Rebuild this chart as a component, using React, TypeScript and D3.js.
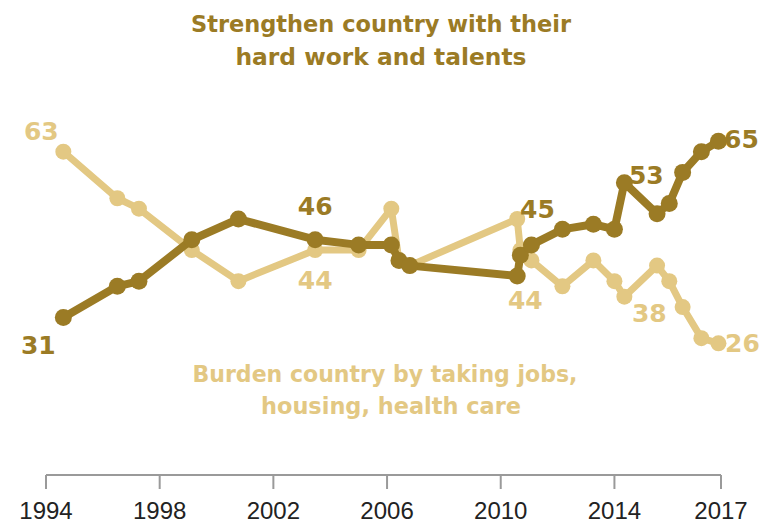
import React from "react";
import * as d3 from "d3";

const dates = [1994.61, 1996.51, 1997.27, 1999.13, 2000.77, 2003.47, 2005.0, 2006.15, 2006.42, 2006.8, 2010.58, 2010.69, 2011.08, 2012.17, 2013.26, 2014.0, 2014.35, 2015.5, 2015.93, 2016.4, 2017.06, 2017.66];
const strengthen = [31, 37, 38, 46, 50, 46, 45, 45, 42, 41, 39, 43, 45, 48, 49, 48, 57, 51, 53, 59, 63, 65];
const burden = [63, 54, 52, 44, 38, 44, 44, 52, 42, 41, 50, 44, 42, 37, 42, 38, 35, 41, 38, 33, 27, 26];

const tickValues = [1994, 1998, 2002, 2006, 2010, 2014, 2017.75];
const tickLabels = ["1994", "1998", "2002", "2006", "2010", "2014", "2017"];

const strengthenLabels = [
  { i: 0, text: "31" },
  { i: 5, text: "46" },
  { i: 12, text: "45" },
  { i: 18, text: "53" },
  { i: 21, text: "65" },
];
const burdenLabels = [
  { i: 0, text: "63" },
  { i: 5, text: "44" },
  { i: 11, text: "44" },
  { i: 18, text: "38" },
  { i: 21, text: "26" },
];

const titleLines = ["Strengthen country with their", "hard work and talents"];
const burdenTitleLines = ["Burden country by taking jobs,", "housing, health care"];

const DARK = "#9b7b25";
const LIGHT = "#e3c883";

export default function App() {
  const W = 764;
  const H = 523;
  const x = d3.scaleLinear().domain([1994, 2017.75]).range([46, 721]);
  const y = d3.scaleLinear().domain([0, 70]).range([478, 478 - 5.18 * 70]);

  const line = d3
    .line<number>()
    .x((_, i) => x(dates[i]))
    .y((d) => y(d));

  const font = "'Liberation Sans', Arial, sans-serif";
  const boldFont = "'DejaVu Sans', 'Liberation Sans', sans-serif";
  const axisY = 475;

  const sOff: Record<number, [number, number]> = {
    0: [-25, 37],
    5: [0, -25],
    12: [6, -27],
    18: [-23, -19],
    21: [23, 7],
  };
  const bOff: Record<number, [number, number]> = {
    0: [-22, -12],
    5: [0, 39],
    11: [5, 59],
    18: [-20, 41],
    21: [24, 9],
  };

  const titleWidths = [380, 291];
  const burdenWidths = [385, 260];

  return (
    <svg
      width={W}
      height={H}
      style={{ position: "absolute", left: 0, top: 0, background: "#fff" }}
      fontFamily={font}
    >
      <rect width={W} height={H} fill="#fff" />
      {titleLines.map((t, k) => (
        <text
          key={"t" + k}
          x={381}
          y={32 + k * 33}
          textAnchor="middle"
          fontSize={22.5}
          fontFamily={boldFont}
          fontWeight="bold"
          fill={DARK}
          textLength={titleWidths[k]}
          lengthAdjust="spacingAndGlyphs"
        >
          {t}
        </text>
      ))}
      {burdenTitleLines.map((t, k) => (
        <text
          key={"b" + k}
          x={k === 0 ? 385 : 391}
          y={382 + k * 32}
          textAnchor="middle"
          fontSize={22.5}
          fontFamily={boldFont}
          fontWeight="bold"
          fill={LIGHT}
          textLength={burdenWidths[k]}
          lengthAdjust="spacingAndGlyphs"
        >
          {t}
        </text>
      ))}

      <line x1={x(1994)} x2={x(2017.75)} y1={axisY} y2={axisY} stroke="#9a9a9a" strokeWidth={2} />
      {tickValues.map((v, k) => (
        <g key={"tick" + k}>
          <line x1={x(v)} x2={x(v)} y1={axisY} y2={axisY + 14} stroke="#9a9a9a" strokeWidth={2} />
          <text x={x(v)} y={519} textAnchor="middle" fontSize={24} fill="#222">
            {tickLabels[k]}
          </text>
        </g>
      ))}

      <path d={line(burden) || ""} fill="none" stroke={LIGHT} strokeWidth={7} strokeLinejoin="round" />
      {burden.map((v, i) => (
        <circle key={"bc" + i} cx={x(dates[i])} cy={y(v)} r={8} fill={LIGHT} />
      ))}

      <path d={line(strengthen) || ""} fill="none" stroke={DARK} strokeWidth={8} strokeLinejoin="round" />
      {strengthen.map((v, i) => (
        <circle key={"sc" + i} cx={x(dates[i])} cy={y(v)} r={8.5} fill={DARK} />
      ))}

      {strengthenLabels.map((l) => {
        const o = sOff[l.i];
        return (
          <text
            key={"sl" + l.i}
            x={x(dates[l.i]) + o[0]}
            y={y(strengthen[l.i]) + o[1]}
            textAnchor="middle"
            fontSize={25}
            fontFamily={boldFont}
            fontWeight="bold"
            fill={DARK}
          >
            {l.text}
          </text>
        );
      })}
      {burdenLabels.map((l) => {
        const o = bOff[l.i];
        return (
          <text
            key={"bl" + l.i}
            x={x(dates[l.i]) + o[0]}
            y={y(burden[l.i]) + o[1]}
            textAnchor="middle"
            fontSize={25}
            fontFamily={boldFont}
            fontWeight="bold"
            fill={LIGHT}
          >
            {l.text}
          </text>
        );
      })}
    </svg>
  );
}
